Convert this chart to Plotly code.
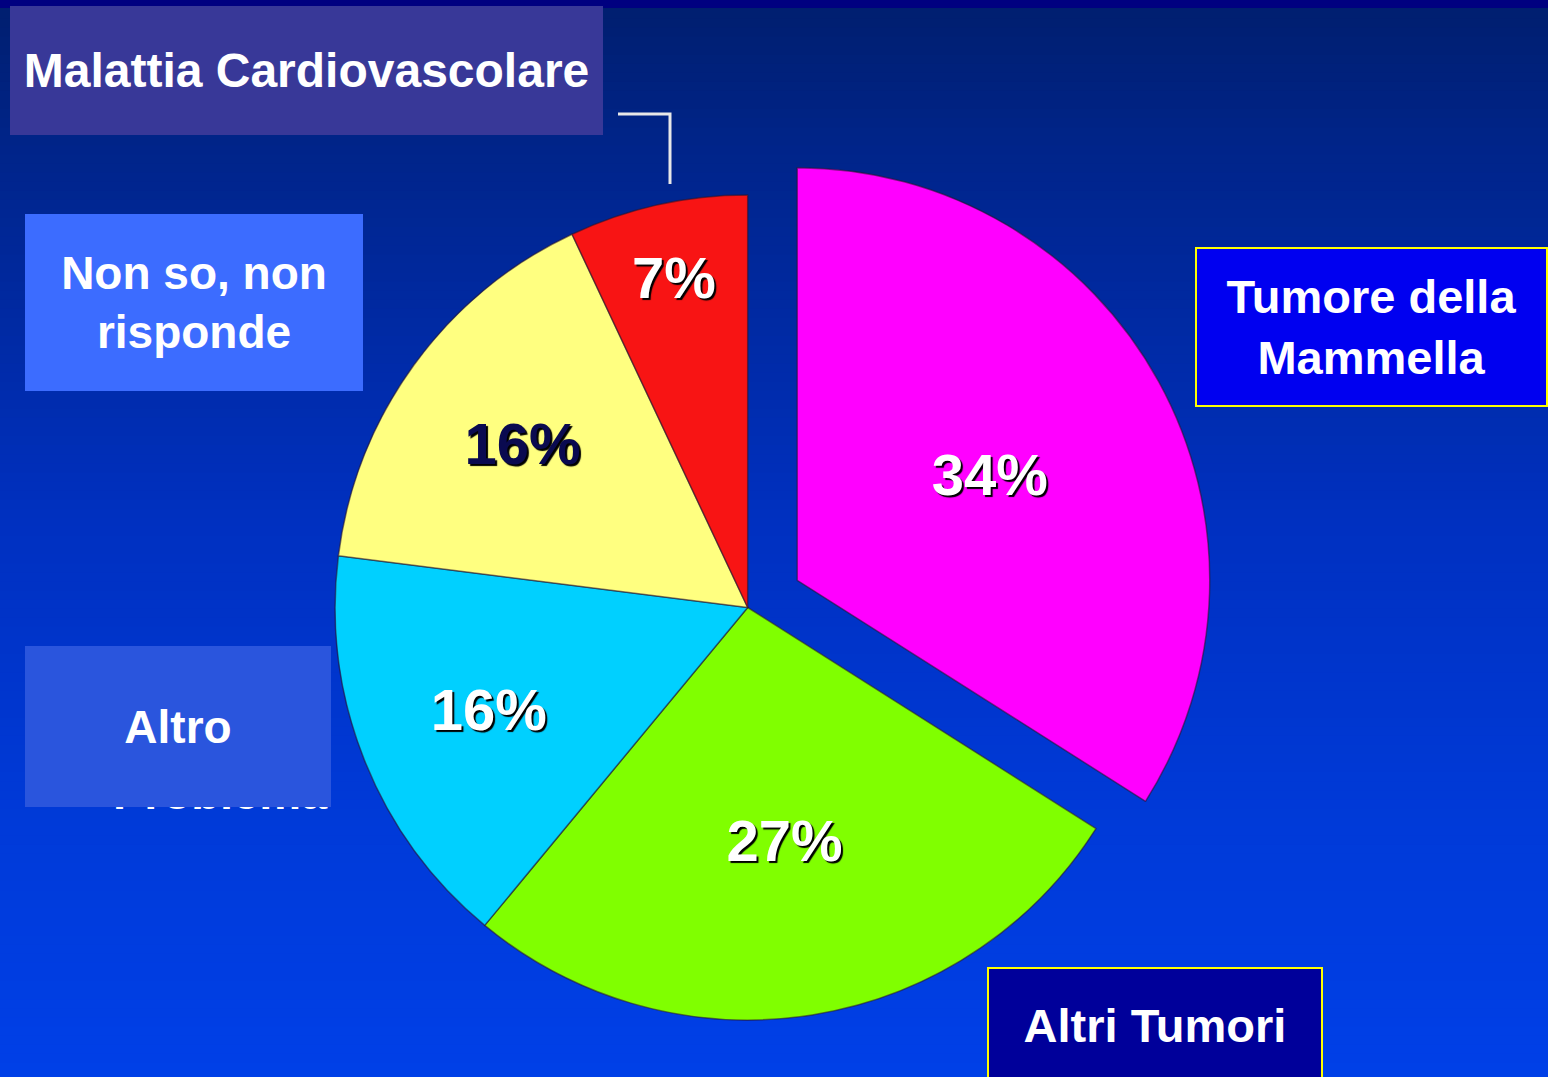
import plotly.graph_objects as go

# ---- data ----
labels = ["Tumore della Mammella", "Altri Tumori", "Altro", "Non so, non risponde", "Malattia Cardiovascolare"]
values = [34, 27, 16, 16, 7]
colors = ["#FF00FF", "#80FF00", "#00D0FF", "#FFFF80", "#F81414"]
text_colors = ["white", "white", "white", "#0A0A50", "white"]
pulls = [0.137, 0, 0, 0, 0]

W, H = 1548, 1090  # figure slightly taller than the window; bottom rows are clipped

fig = go.Figure()

fig.add_trace(go.Pie(
    labels=labels,
    values=values,
    sort=False,
    direction="clockwise",
    rotation=0,
    pull=pulls,
    marker=dict(colors=colors, line=dict(color="rgba(40,20,40,0.55)", width=1.5)),
    texttemplate="%{value}%",
    textposition="inside",
    insidetextorientation="horizontal",
    textfont=dict(family="Liberation Sans, Arial, sans-serif", size=58,
                  color=text_colors, weight="bold", shadow="2px 2px 1px #000000"),
    showlegend=False,
    hoverinfo="label+percent",
    domain=dict(x=[0.18, 0.786], y=[7 / H, (7 + 951) / H]),
))

# ---- background gradient ----
stops = [(0, (0, 30, 110)), (140, (0, 36, 136)), (520, (0, 48, 192)), (820, (0, 58, 216)), (1090, (0, 64, 232))]

def col_at(py):
    for (y0, c0), (y1, c1) in zip(stops[:-1], stops[1:]):
        if y0 <= py <= y1:
            t = (py - y0) / (y1 - y0)
            return tuple(round(a + (b - a) * t) for a, b in zip(c0, c1))
    return stops[-1][1]

shapes = []
n = 120
for i in range(n):
    py0 = i * H / n
    py1 = (i + 1) * H / n + 1
    c = col_at((py0 + py1) / 2)
    shapes.append(dict(type="rect", xref="paper", yref="paper", x0=0, x1=1,
                       y0=max(0, 1 - py1 / H), y1=1 - py0 / H, line=dict(width=0),
                       fillcolor="rgb(%d,%d,%d)" % c, layer="below"))
# top navy strip
shapes.append(dict(type="rect", xref="paper", yref="paper", x0=0, x1=1,
                   y0=1 - 8 / H, y1=1, line=dict(width=0), fillcolor="#000080", layer="below"))
# leader line for Malattia Cardiovascolare
shapes.append(dict(type="path", xref="paper", yref="paper",
                   path="M %f,%f L %f,%f L %f,%f" % (618 / W, 1 - 114 / H, 670 / W, 1 - 114 / H, 670 / W, 1 - 184 / H),
                   line=dict(color="#E8E8E8", width=3)))

font_b = "Liberation Sans, Arial, sans-serif"

def box(text, x0, y0, x1, y1, bg, size, border=None):
    bw = 2 if border else 0
    return dict(text="<b>%s</b>" % text, xref="paper", yref="paper",
                x=(x0 + x1) / 2 / W, y=1 - (y0 + y1) / 2 / H,
                xanchor="center", yanchor="middle", showarrow=False,
                width=x1 - x0 - 2 * bw, height=y1 - y0 - 2 * bw, borderpad=0,
                bgcolor=bg, bordercolor=border if border else "rgba(0,0,0,0)", borderwidth=bw,
                font=dict(family=font_b, size=size, color="white"), align="center")

annotations = [
    # partially hidden text under the "Altro" box
    dict(text="<b>Problema</b>", xref="paper", yref="paper", x=220 / W, y=1 - 792 / H,
         xanchor="center", yanchor="middle", showarrow=False,
         font=dict(family=font_b, size=47, color="white")),
    box("Malattia Cardiovascolare", 10, 6, 603, 135, "#383898", 48),
    box("Non so, non<br>risponde", 25, 214, 363, 391, "#3C6CFF", 46),
    box("Altro", 25, 646, 331, 807, "#2A55DD", 46),
    box("Tumore della<br>Mammella", 1195, 247, 1548, 407, "#0000F0", 47, border="#FFFF00"),
    box("Altri Tumori", 987, 967, 1323, 1083, "#00009A", 47, border="#FFFF00"),
]

fig.update_layout(
    width=W, height=H,
    margin=dict(l=0, r=0, t=0, b=0),
    paper_bgcolor="#0030c0",
    plot_bgcolor="rgba(0,0,0,0)",
    shapes=shapes,
    annotations=annotations,
)

fig.write_html("out.html", config=dict(displayModeBar=False),
               post_script="document.body.style.margin='0';document.body.style.overflow='hidden';")
